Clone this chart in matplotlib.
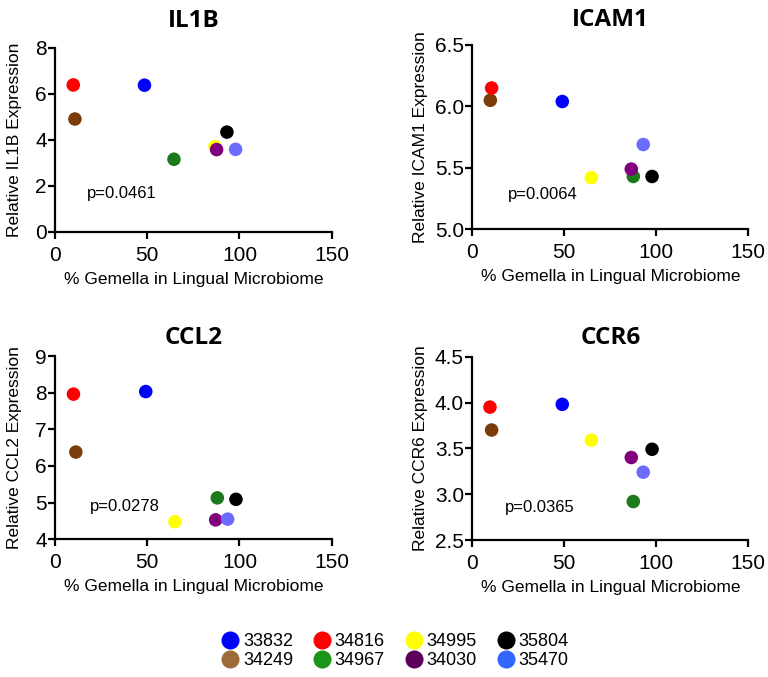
import matplotlib
matplotlib.use("Agg")
import matplotlib.pyplot as plt
from matplotlib.lines import Line2D

samples = ["33832", "34249", "34816", "34967", "34995", "34030", "35804", "35470"]
plot_colors = ["#0000ff", "#7a3d0a", "#ff0000", "#1c7a1c", "#ffff00", "#800080", "#000000", "#6b6bff"]
legend_colors = ["#0000ff", "#9c6b3a", "#ff0000", "#1a951a", "#ffff00", "#5c005c", "#000000", "#3366ff"]

# per panel x (% Gemella) and y values, in sample order above
il1b_x = [48.5, 10.8, 9.9, 64.5, 86.7, 87.6, 93.2, 97.9]
il1b_y = [6.37, 4.90, 6.38, 3.15, 3.70, 3.57, 4.33, 3.58]
icam1_x = [48.9, 9.8, 10.5, 87.5, 64.7, 86.4, 97.7, 92.9]
icam1_y = [6.04, 6.05, 6.15, 5.43, 5.42, 5.49, 5.43, 5.69]
ccl2_x = [49.2, 11.3, 10.0, 88.0, 65.0, 87.1, 98.1, 93.6]
ccl2_y = [8.03, 6.38, 7.96, 5.13, 4.48, 4.53, 5.09, 4.55]
ccr6_x = [48.9, 10.5, 9.6, 87.5, 64.7, 86.4, 97.7, 92.9]
ccr6_y = [3.98, 3.70, 3.95, 2.92, 3.59, 3.40, 3.49, 3.24]

panels = [
    ("IL1B", il1b_x, il1b_y, (0, 8), [0, 2, 4, 6, 8], "{:.0f}", "p=0.0461", (17.5, 1.67),
     [55, 47.7, 331.7, 231.7], 15, 22),
    ("ICAM1", icam1_x, icam1_y, (5.0, 6.5), [5.0, 5.5, 6.0, 6.5], "{:.1f}", "p=0.0064", (19.4, 5.28),
     [472.3, 45, 748.3, 229.3], 14, 428),
    ("CCL2", ccl2_x, ccl2_y, (4, 9), [4, 5, 6, 7, 8, 9], "{:.0f}", "p=0.0278", (19.0, 4.89),
     [55, 356, 331.7, 539.3], 9, 22),
    ("CCR6", ccr6_x, ccr6_y, (2.5, 4.5), [2.5, 3.0, 3.5, 4.0, 4.5], "{:.1f}", "p=0.0365", (17.6, 2.86),
     [472.3, 356.7, 748.3, 540], 9, 428),
]

W, H = 768, 677
plt.rcParams['font.family'] = ['Liberation Sans', 'DejaVu Sans']
fig = plt.figure(figsize=(W / 100, H / 100), dpi=100)

for name, xs, ys, ylim, yticks, fmt, ptxt, ppos, box, tpad, ylab_x in panels:
    l, t, r, b = box
    ax = fig.add_axes([l / W, 1 - b / H, (r - l) / W, (b - t) / H])
    for x, y, c in zip(xs, ys, plot_colors):
        ax.scatter([x], [y], s=95, color=c, edgecolors='none', zorder=3, clip_on=False)
    ax.set_xlim(0, 150)
    ax.set_ylim(*ylim)
    ax.set_xticks([0, 50, 100, 150])
    ax.set_yticks(yticks)
    ax.set_yticklabels([fmt.format(v) for v in yticks])
    for s in ["top", "right"]:
        ax.spines[s].set_visible(False)
    for s in ["left", "bottom"]:
        ax.spines[s].set_linewidth(1.6)
    ax.tick_params(axis='both', direction='out', length=5, width=1.6, labelsize=15, colors='black')
    ax.tick_params(axis='x', pad=5)
    ax.tick_params(axis='y', pad=1)
    ax.set_xlabel("% Gemella in Lingual Microbiome", fontsize=12.5, labelpad=5)
    ax.set_ylabel("Relative %s Expression" % name, fontsize=12.5)
    ax.yaxis.set_label_coords((ylab_x - l) / (r - l), 0.5)
    ax.set_title(name, fontsize=17.5, fontweight='bold', family=['Open Sans', 'DejaVu Sans'], pad=tpad)
    ax.text(ppos[0], ppos[1], ptxt, fontsize=12, ha='left', va='center')

handles = [Line2D([], [], marker='o', linestyle='none', markersize=13, markerfacecolor=c,
                  markeredgecolor='none') for c in legend_colors]
fig.legend(handles, samples, loc='center', bbox_to_anchor=(394 / W, 1 - 651 / H), ncol=4,
           frameon=False, fontsize=13, handletextpad=0.1, columnspacing=1.0, labelspacing=0.1,
           handlelength=1.2)

fig.savefig("out.png", dpi=100)
